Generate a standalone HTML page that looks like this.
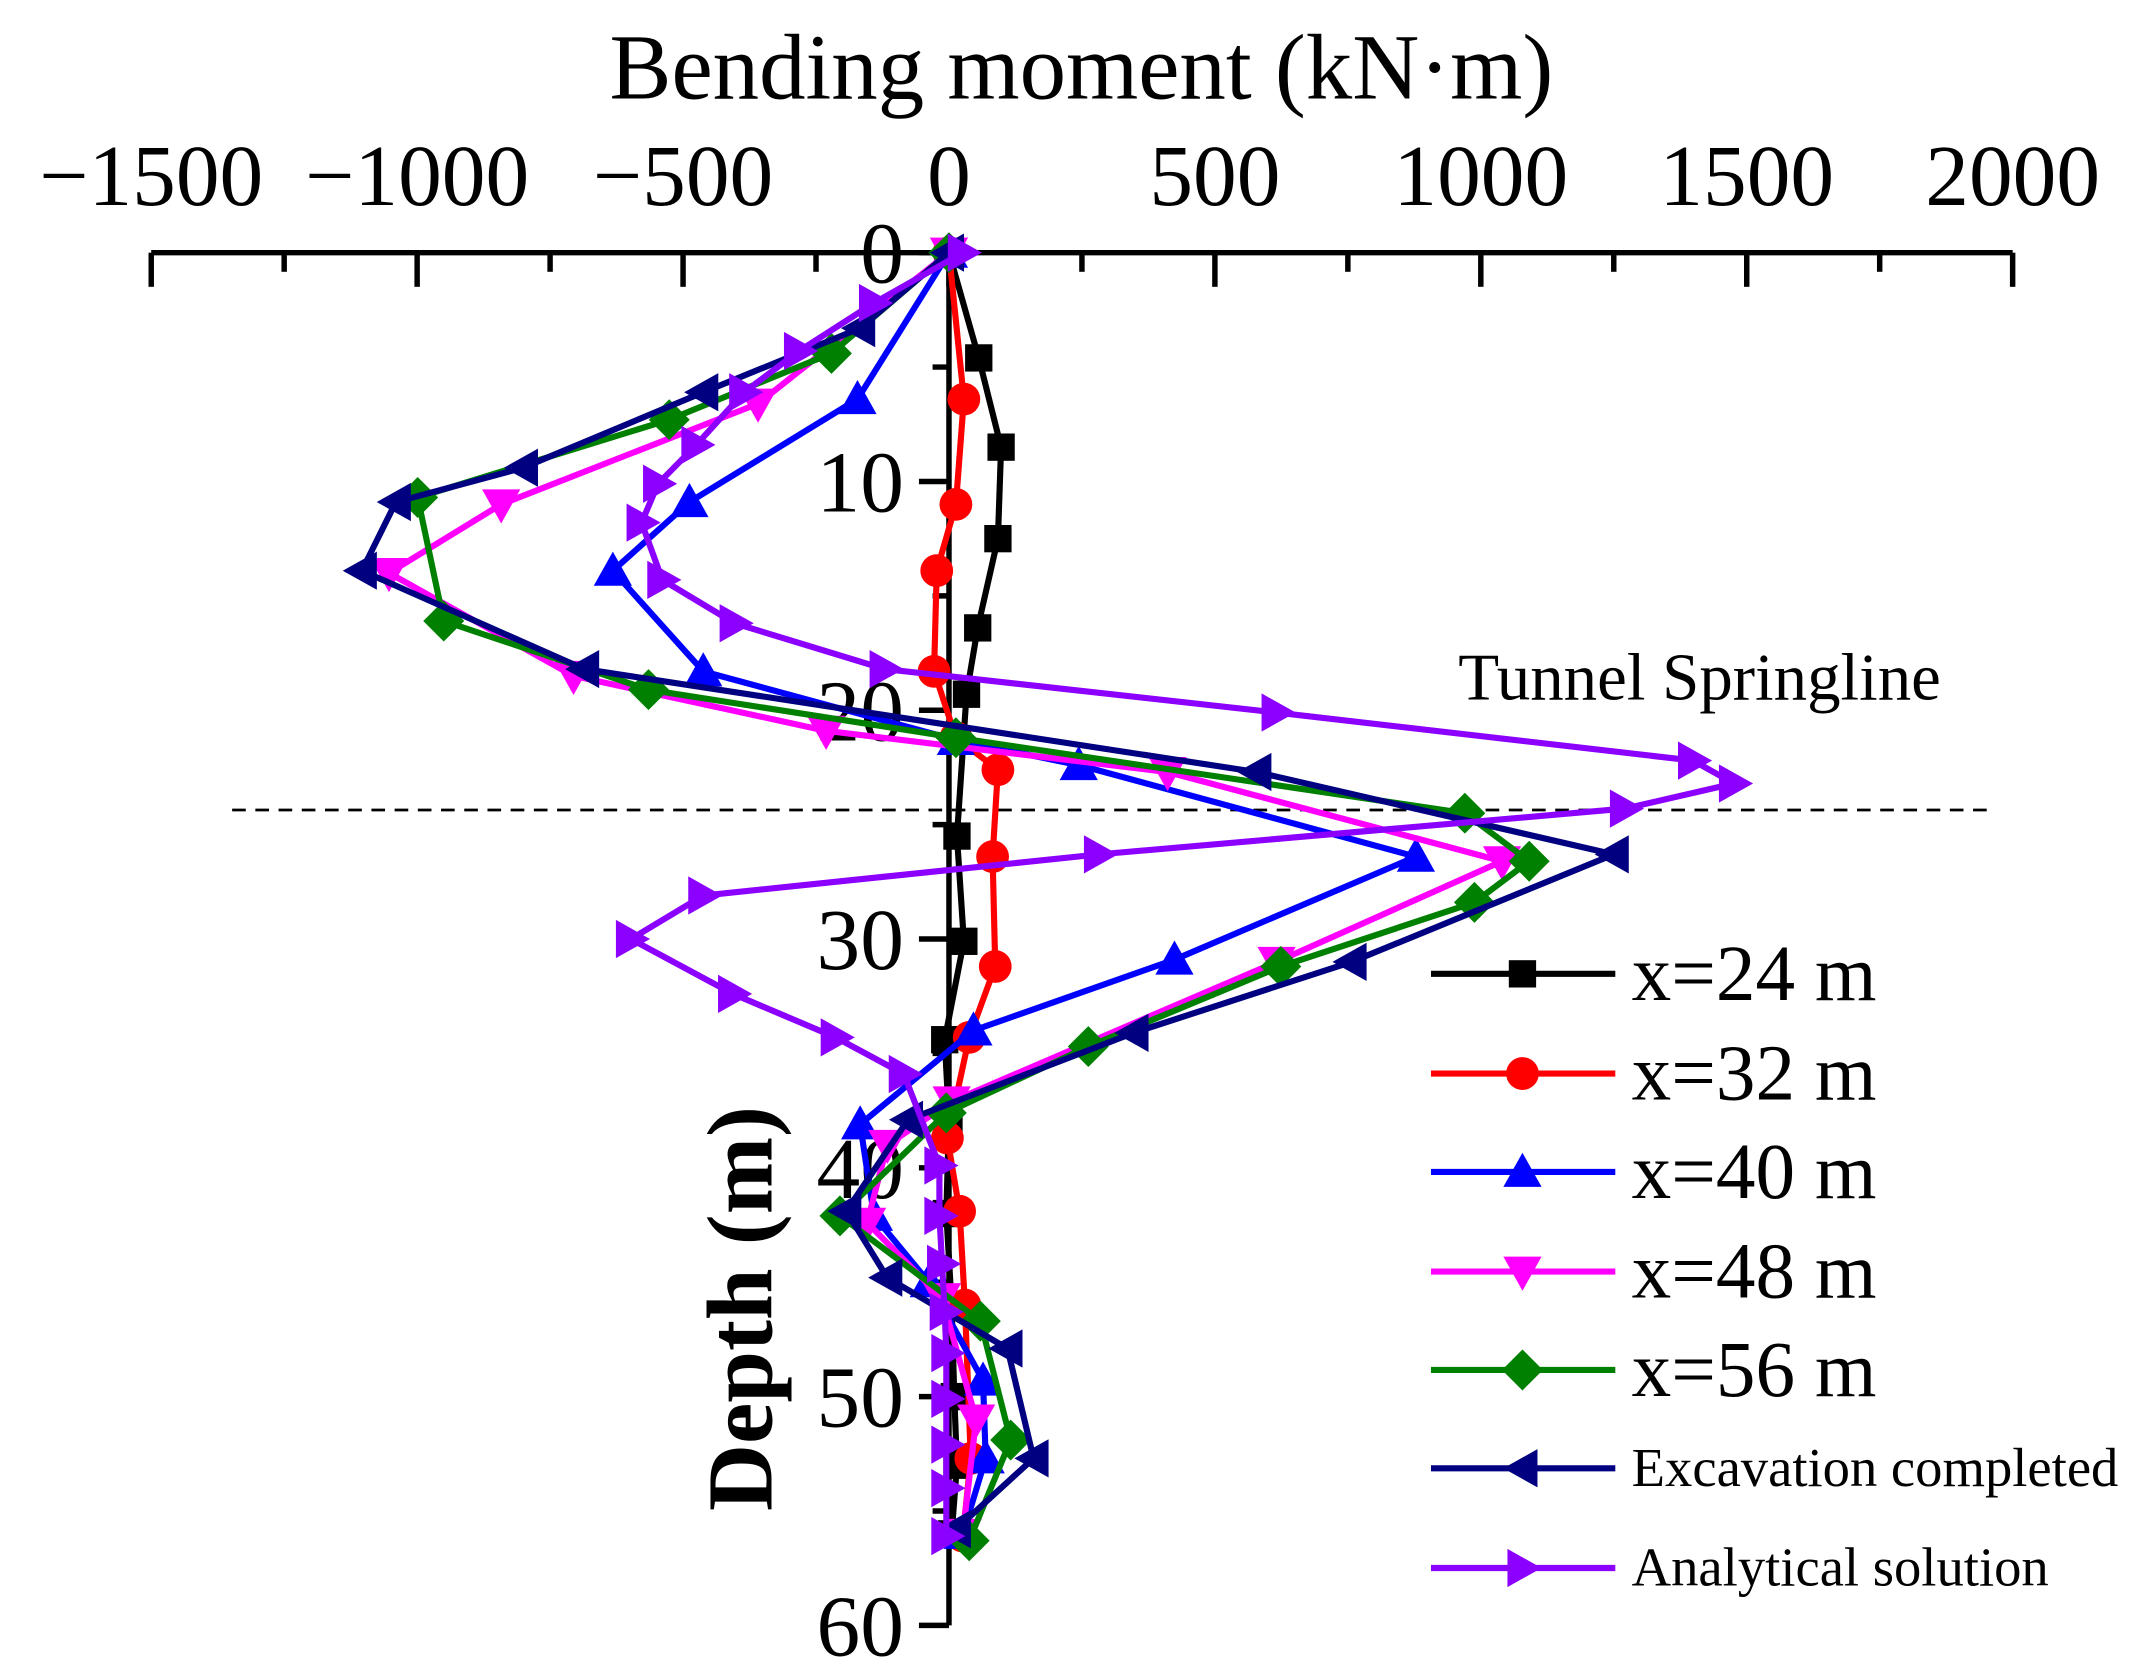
<!DOCTYPE html>
<html><head><meta charset="utf-8"><style>
html,body{margin:0;padding:0;background:#fff;}
svg{display:block;font-family:"Liberation Serif",serif;}
</style></head><body>
<svg id="chart" width="2141" height="1680" viewBox="0 0 1568 1230" preserveAspectRatio="none" xmlns="http://www.w3.org/2000/svg">
<g id="axes"></g><g id="series"></g><g id="legend"></g>
</svg>
<script>
const xTicks=[-1500,-1000,-500,0,500,1000,1500,2000];
const yTicks=[0,10,20,30,40,50,60];
const seriesNames=["x=24 m","x=32 m","x=40 m","x=48 m","x=56 m","Excavation completed","Analytical solution"];
const seriesColors=["#000000","#ff0000","#0000ff","#ff00ff","#008000","#000080","#8b00ff"];
const seriesMarkers=["square","circle","up","down","diamond","left","right"];
const d24=[0,4.6,8.5,12.5,16.4,19.3,25.5,30.1,34.4,37.9,42,46,50,53,56];
const m24=[0,56,98,92,54,33,15,28,-8,0,-5,5,10,15,5];
const d32=[0,6.4,11,13.9,18.3,21.2,22.6,26.4,31.2,34.3,38.7,41.9,46,52.7,56.1];
const m32=[0,28,13,-23,-28,13,92,82,87,38,-3,20,30,41,26];
const d40=[0,6.4,10.9,13.9,18.3,21.3,22.4,26.4,30.9,34,38.1,42.1,45,49.3,52.7,56];
const m40=[0,-172,-488,-632,-462,13,244,878,424,46,-167,-141,-38,64,69,26];
const d48=[0,6.6,11,14,18.5,20.9,22.7,26.6,31,37.1,39,42.4,45.7,51,56];
const m48=[0,-359,-842,-1053,-706,-231,411,1040,616,5,-116,-154,-13,51,26];
const d56=[0,4.4,7.3,10.7,16.1,19.1,21.2,24.5,26.6,28.4,31.2,34.7,37.6,42.1,46.7,51.9,56.3];
const m56=[0,-221,-526,-999,-950,-565,13,970,1091,988,624,262,-5,-205,59,116,38];
const dEx=[0,3.3,6.1,9.4,10.9,13.9,18.2,22.7,26.3,31,34.1,37.9,41.9,44.8,47.9,52.7,55.8];
const mEx=[0,-167,-462,-801,-1040,-1104,-686,578,1250,757,347,-77,-193,-116,110,159,13];
const dAn=[0,2.2,4.3,6.1,8.4,10.1,11.8,14.3,16.2,18.2,20.1,22.2,23.2,24.3,26.3,28.1,30,32.4,34.3,35.9,39.9,42.1,44.2,46.3,48.1,50.1,52.1,54,56.1];
const mAn=[26,-141,-282,-385,-475,-547,-578,-539,-403,-121,616,1399,1476,1271,282,-462,-598,-406,-213,-85,-18,-18,-13,-8,-5,-5,-5,-5,-5];
const allD=[d24,d32,d40,d48,d56,dEx,dAn];
const allM=[m24,m32,m40,m48,m56,mEx,mAn];
const NS="http://www.w3.org/2000/svg";
const X0=695,XS=0.3895,Y0=185,YS=16.75;
const xs=v=>X0+v*XS, ys=d=>Y0+d*YS;
function mk(tag,attrs,parent){const e=document.createElementNS(NS,tag);for(const k in attrs)e.setAttribute(k,attrs[k]);parent.appendChild(e);return e;}
const axes=document.getElementById('axes');
let t=mk('line',{x1:xs(-1500),x2:xs(2000),y1:Y0,y2:Y0,stroke:'#000','stroke-width':4},axes);

for(let v=-1500;v<=2000;v+=250){const major=v%500===0;
 const l=mk('line',{x1:xs(v),x2:xs(v),y1:Y0,y2:Y0+(major?25:14),stroke:'#000','stroke-width':4},axes);
 }
xTicks.forEach(v=>{const e=mk('text',{x:xs(v),y:150,'text-anchor':'middle','font-size':64},axes);e.textContent=(v<0?'\u2212':'')+Math.abs(v);
 });
t=mk('line',{x1:X0,x2:X0,y1:Y0,y2:ys(60),stroke:'#000','stroke-width':4},axes);

for(let d=0;d<=60;d+=5){const major=d%10===0;
 const l=mk('line',{x1:X0,x2:X0-(major?22:12),y1:ys(d),y2:ys(d),stroke:'#000','stroke-width':4},axes);
 }
yTicks.forEach(d=>{const e=mk('text',{x:X0-33,y:ys(d)+22,'text-anchor':'end','font-size':64},axes);e.textContent=d;
 });
t=mk('text',{x:792,y:72,'text-anchor':'middle','font-size':68},axes);t.textContent='Bending moment (kN\u00b7m)';

t=mk('text',{x:0,y:0,'text-anchor':'middle','font-size':68,'font-weight':'bold',transform:'translate(565,958) rotate(-90)'},axes);t.textContent='Depth (m)';

t=mk('line',{x1:170,x2:1457,y1:593,y2:593,stroke:'#000','stroke-width':2,'stroke-dasharray':'10,7'},axes);

t=mk('text',{x:1068,y:512,'font-size':49},axes);t.textContent='Tunnel Springline';

function marker(type,x,y,c,parent){const r=12;let e;
 if(type==='square')e=mk('rect',{x:x-10,y:y-10,width:20,height:20,fill:c},parent);
 else if(type==='circle')e=mk('circle',{cx:x,cy:y,r:12,fill:c},parent);
 else{let p;
  if(type==='up')p=[[x,y-r-2],[x+r+2,y+r-1],[x-r-2,y+r-1]];
  if(type==='down')p=[[x,y+r+2],[x+r+2,y-r+1],[x-r-2,y-r+1]];
  if(type==='left')p=[[x-r-2,y],[x+r-1,y-r-2],[x+r-1,y+r+2]];
  if(type==='right')p=[[x+r+2,y],[x-r+1,y-r-2],[x-r+1,y+r+2]];
  if(type==='diamond')p=[[x,y-r-3],[x+r+3,y],[x,y+r+3],[x-r-3,y]];
  e=mk('polygon',{points:p.map(q=>q.join(',')).join(' '),fill:c},parent);}
 return e;}
const sg=document.getElementById('series');
allD.forEach((D,i)=>{const g=mk('g',{},sg);
 
 
 const pl=mk('polyline',{points:D.map((d,j)=>xs(allM[i][j])+','+ys(d)).join(' '),fill:'none',stroke:seriesColors[i],'stroke-width':4.5,'stroke-linejoin':'round'},g);
 
 D.forEach((d,j)=>{const m=marker(seriesMarkers[i],xs(allM[i][j]),ys(d),seriesColors[i],g);
  });
});
const lg=document.getElementById('legend');
const ly=[713,786,858,931,1003,1075,1148];
seriesNames.forEach((n,i)=>{const g=mk('g',{},lg);
 
 mk('line',{x1:1048,x2:1183,y1:ly[i],y2:ly[i],stroke:seriesColors[i],'stroke-width':4.5},g);
 marker(seriesMarkers[i],1115,ly[i],seriesColors[i],g);
 const small=i>=5;
 const e=mk('text',{x:1195,y:ly[i]+(small?13:19),'font-size':small?40:58},g);e.textContent=n;});
</script>
</body></html>
